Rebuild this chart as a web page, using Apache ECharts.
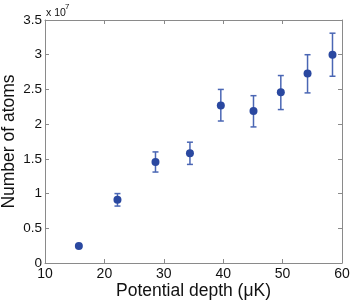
<!DOCTYPE html>
<html><head><meta charset="utf-8">
<script src="https://cdn.jsdelivr.net/npm/echarts@6/dist/echarts.min.js"></script>
<style>html,body{margin:0;padding:0;background:#fff}#c{width:350px;height:301px}</style>
</head><body><div id="c"></div>
<script>
// Potential depth (µK)
const depth = [15.7, 22.2, 28.6, 34.4, 39.6, 45.1, 49.7, 54.2, 58.4];
// Number of atoms (x 1e7)
const atoms = [0.245, 0.91, 1.455, 1.58, 2.27, 2.19, 2.46, 2.73, 3.0];
const errLow = [0.245, 0.82, 1.31, 1.42, 2.045, 1.96, 2.21, 2.45, 2.69];
const errHigh = [0.245, 1.0, 1.6, 1.74, 2.5, 2.41, 2.70, 3.0, 3.31];
const xTicks = [10, 20, 30, 40, 50, 60];
const yTicks = [0, 0.5, 1, 1.5, 2, 2.5, 3, 3.5];

const font = 'Liberation Sans, Arial, sans-serif';
const axisCol = '#8a8a8a';
const chart = echarts.init(document.getElementById('c'));
const pts = depth.map((d, i) => [d, atoms[i]]);
const errs = depth.map((d, i) => [d, errLow[i], errHigh[i]]).filter(e => e[2] > e[1]);

const baseX = {
  type: 'value', min: xTicks[0], max: xTicks[xTicks.length - 1], interval: 10,
  axisLine: { show: true, onZero: false, lineStyle: { color: axisCol, width: 1 } },
  axisTick: { show: true, inside: true, length: 4, lineStyle: { color: axisCol } },
  splitLine: { show: false }
};
const baseY = {
  type: 'value', min: yTicks[0], max: yTicks[yTicks.length - 1], interval: 0.5,
  axisLine: { show: true, onZero: false, lineStyle: { color: axisCol, width: 1 } },
  axisTick: { show: true, inside: true, length: 4, lineStyle: { color: axisCol } },
  splitLine: { show: false }
};

chart.setOption({
  animation: false,
  grid: { left: 45, right: 8, top: 20, bottom: 38, containLabel: false, outerBoundsMode: 'none' },
  graphic: [
    { type: 'text', left: 46, top: 8, z: 10,
      style: { text: 'x 10', fontSize: 10.5, fontFamily: font, fill: '#111' } },
    { type: 'text', left: 65, top: 3, z: 10,
      style: { text: '7', fontSize: 8, fontFamily: font, fill: '#111' } }
  ],
  xAxis: [
    Object.assign({}, baseX, {
      position: 'bottom',
      name: 'Potential depth (\u03bcK)', nameLocation: 'middle', nameGap: 19, nameMoveOverlap: false,
      nameTextStyle: { fontSize: 17.5, fontFamily: font, color: '#111' },
      axisLabel: { fontSize: 14, fontFamily: font, color: '#111', margin: 4 }
    }),
    Object.assign({}, baseX, { position: 'top', axisLabel: { show: false } })
  ],
  yAxis: [
    Object.assign({}, baseY, {
      position: 'left',
      name: 'Number of atoms', nameLocation: 'middle', nameGap: 27, nameMoveOverlap: false,
      nameTextStyle: { fontSize: 17.5, fontFamily: font, color: '#111' },
      axisLabel: { fontSize: 13.5, fontFamily: font, color: '#111', margin: 3 }
    }),
    Object.assign({}, baseY, { position: 'right', axisLabel: { show: false } })
  ],
  series: [
    {
      type: 'custom', xAxisIndex: 0, yAxisIndex: 0, data: errs, z: 2,
      renderItem: function (params, api) {
        const x = api.value(0);
        const lo = api.coord([x, api.value(1)]);
        const hi = api.coord([x, api.value(2)]);
        const hw = 3;
        const st = { stroke: '#4a66b4', lineWidth: 1.5 };
        return { type: 'group', children: [
          { type: 'line', shape: { x1: lo[0], y1: lo[1], x2: hi[0], y2: hi[1] }, style: st },
          { type: 'line', shape: { x1: lo[0] - hw, y1: lo[1], x2: lo[0] + hw, y2: lo[1] }, style: st },
          { type: 'line', shape: { x1: hi[0] - hw, y1: hi[1], x2: hi[0] + hw, y2: hi[1] }, style: st }
        ] };
      }
    },
    {
      type: 'scatter', data: pts, symbol: 'circle', symbolSize: 8, z: 3,
      itemStyle: { color: '#2a48a0', opacity: 1 }
    }
  ]
});
</script></body></html>
